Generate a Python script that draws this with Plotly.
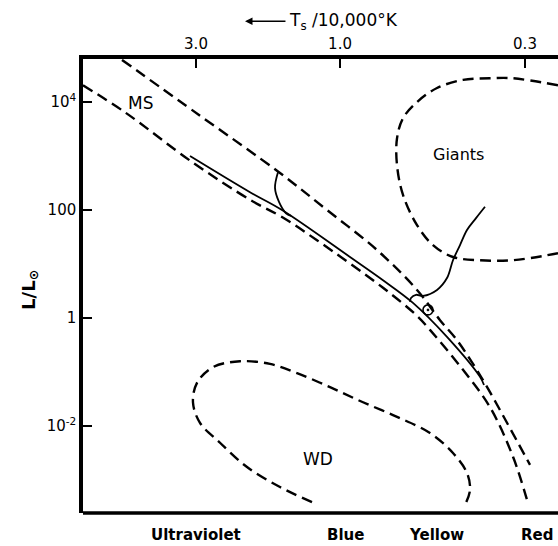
import plotly.graph_objects as go

# x: position along the temperature axis (0 = left frame, 100 = right edge), temperature decreasing rightward
# y: log10(L / L_sun)

ms_upper_x = [8.21, 24.42, 41.26, 51.37, 61.89, 70.32, 75.16, 78.74, 84.21, 89.26, 94.11]
ms_upper_y = [4.78, 3.76, 2.70, 2.00, 1.26, 0.52, -0.04, -0.41, -1.15, -1.94, -2.72]

ms_solid_x = [22.53, 35.16, 41.89, 56.21, 63.16, 69.47, 76.63, 83.58, 84.42]
ms_solid_y = [3.00, 2.33, 2.00, 1.13, 0.70, 0.28, -0.35, -1.09, -1.24]

ms_lower_x = [0.0, 8.84, 22.95, 35.16, 41.89, 49.26, 63.16, 70.32, 73.05, 80.0, 85.68, 90.53, 93.68]
ms_lower_y = [4.31, 3.81, 2.89, 2.19, 1.87, 1.44, 0.56, 0.04, -0.22, -0.96, -1.65, -2.57, -3.43]

hook_x = [41.05, 40.42, 41.26, 42.74, 43.8]
hook_y = [2.70, 2.41, 2.15, 1.94, 1.89]

track_x = [68.84, 69.05, 70.11, 71.58, 74.53, 76.63, 77.89, 79.37, 80.84, 82.74, 84.63]
track_y = [0.30, 0.37, 0.43, 0.41, 0.52, 0.74, 1.07, 1.35, 1.63, 1.85, 2.06]

giants_x = [100, 90.53, 85.68, 80.0, 74.53, 70.32, 67.37, 66.11, 66.11, 67.37, 70.32, 73.68, 77.89, 83.58, 90.53, 100]
giants_y = [4.31, 4.44, 4.44, 4.41, 4.26, 4.0, 3.70, 3.33, 2.83, 2.28, 1.72, 1.35, 1.13, 1.07, 1.07, 1.20]

wd_x = [48.21, 41.47, 34.53, 28.84, 24.63, 23.16, 24.0, 27.37, 33.05, 39.37, 45.05, 52.0, 58.95, 66.11, 73.05, 77.89, 80.84, 81.47, 80.42]
wd_y = [-3.41, -3.13, -2.76, -2.31, -1.94, -1.57, -1.20, -0.91, -0.80, -0.85, -1.02, -1.28, -1.56, -1.83, -2.13, -2.50, -2.87, -3.19, -3.46]

sun_x = [72.63]
sun_y = [0.15]

x_tick_pos = [23.79, 54.11, 93.05]
x_tick_text = ["3.0", "1.0", "0.3"]
y_tick_pos = [4, 2, 0, -2]
y_tick_text = ["10<sup>4</sup>", "100", "1", "10<sup>-2</sup>"]

region_labels = ["MS", "Giants", "WD"]
region_x = [12.0, 78.95, 49.47]
region_y = [3.98, 3.02, -2.61]

band_labels = ["Ultraviolet", "Blue", "Yellow", "Red"]
band_pos = [0.238, 0.5516, 0.745, 0.956]

DASH = "11px,6px"
fig = go.Figure()

def add_line(x, y, dash, width, smooth=1.0):
    fig.add_trace(go.Scatter(x=x, y=y, mode="lines",
                             line=dict(color="black", width=width, dash=dash,
                                       shape="spline", smoothing=smooth),
                             hoverinfo="skip", showlegend=False))

add_line(ms_upper_x, ms_upper_y, DASH, 2.4)
add_line(ms_lower_x, ms_lower_y, DASH, 2.4)
add_line(ms_solid_x, ms_solid_y, "solid", 1.8)
add_line(hook_x, hook_y, "solid", 1.8)
add_line(track_x, track_y, "solid", 1.8)
add_line(giants_x, giants_y, DASH, 2.4)
add_line(wd_x, wd_y, DASH, 2.4)

fig.add_trace(go.Scatter(x=sun_x, y=sun_y, mode="markers",
                         marker=dict(symbol="circle-open-dot", size=10, color="black",
                                     line=dict(width=1.6, color="black")),
                         hoverinfo="skip", showlegend=False))

FONT = "DejaVu Sans"
region_sizes = [17, 16, 17]
for t, x, y, s in zip(region_labels, region_x, region_y, region_sizes):
    fig.add_annotation(x=x, y=y, text=t, showarrow=False, xanchor="center", yanchor="middle",
                       font=dict(family=FONT, size=s, color="black"))

for t, p in zip(band_labels, band_pos):
    fig.add_annotation(xref="paper", yref="paper", x=p, y=-0.049, text="<b>" + t + "</b>",
                       showarrow=False, font=dict(family=FONT, size=15, color="black"),
                       xanchor="center", yanchor="middle")

# top axis title with arrow
fig.add_annotation(xref="paper", yref="paper", x=0.341, y=1.083, ax=42, ay=0,
                   text="", showarrow=True, arrowhead=2, arrowsize=1, arrowwidth=1.5,
                   arrowcolor="black", axref="pixel", ayref="pixel")
fig.add_annotation(xref="paper", yref="paper", x=0.429, y=1.083,
                   text="T<sub>s</sub> /10,000°K", showarrow=False, xanchor="left",
                   yanchor="middle", font=dict(family=FONT, size=17, color="black"))
# y axis title
fig.add_annotation(xref="paper", yref="paper", x=-0.112, y=0.491,
                   text="<b>L/L<sub>⊙</sub></b>", showarrow=False, textangle=-90,
                   xanchor="center", yanchor="middle",
                   font=dict(family=FONT, size=18, color="black"))

# bottom frame line
fig.add_shape(type="line", xref="paper", yref="paper", x0=0, x1=1.02, y0=0, y1=0,
              line=dict(color="black", width=3.5))

fig.update_xaxes(range=[0, 100], side="top", showgrid=False, zeroline=False,
                 showline=True, linecolor="black", linewidth=3.5,
                 tickmode="array", tickvals=x_tick_pos, ticktext=x_tick_text,
                 ticks="inside", ticklen=9, tickwidth=2, tickcolor="black",
                 tickfont=dict(family=FONT, size=15, color="black"))
fig.update_yaxes(range=[-3.611, 4.797], showgrid=False, zeroline=False,
                 showline=True, linecolor="black", linewidth=3.5,
                 tickmode="array", tickvals=y_tick_pos, ticktext=y_tick_text,
                 ticks="inside", ticklen=9, tickwidth=2, tickcolor="black",
                 tickfont=dict(family=FONT, size=15, color="black"))

fig.update_layout(width=558, height=546, margin=dict(l=83, r=0, t=59, b=33),
                  plot_bgcolor="white", paper_bgcolor="white", showlegend=False)

fig.write_html("out.html", config={"displayModeBar": False},
               post_script="document.body.style.margin='0px';document.body.style.overflow='hidden';")
